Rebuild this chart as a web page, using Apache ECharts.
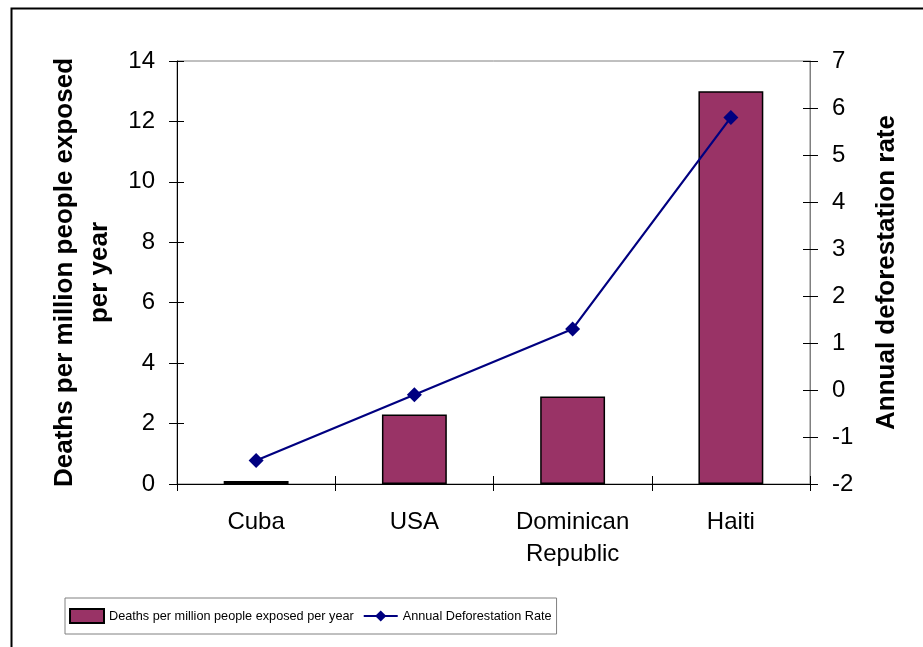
<!DOCTYPE html>
<html>
<head>
<meta charset="utf-8">
<script src="https://cdn.jsdelivr.net/npm/echarts@6/dist/echarts.min.js"></script>
<style>html,body{margin:0;padding:0;background:#fff;}#chart{width:923px;height:647px;}</style>
</head>
<body>
<div id="chart"></div>
<script>
const categories = ['Cuba', 'USA', 'Dominican\nRepublic', 'Haiti'];
const deathsPerMillion = [0.1, 2.3, 2.9, 13.0];
const deforestationRate = [-1.5, -0.1, 1.3, 5.8];
const seriesNames = ['Deaths per million people exposed per year', 'Annual Deforestation Rate'];
const leftAxisTitle = 'Deaths per million people exposed\nper year';
const rightAxisTitle = 'Annual deforestation rate';

const FONT = '"Liberation Sans", Arial, sans-serif';
const chart = echarts.init(document.getElementById('chart'), null, {renderer: 'canvas'});

const crossAxis = (pos, min, max, interval) => ({
  type: 'value', position: pos, min: min, max: max, interval: interval,
  axisLine: {show: false, onZero: false}, axisLabel: {show: false}, splitLine: {show: false},
  axisTick: {show: true, inside: true, length: 7, lineStyle: {color: '#000', width: 1}}
});

chart.setOption({
  animation: false,
  backgroundColor: '#fff',
  textStyle: {fontFamily: FONT, color: '#000'},
  graphic: [{
    type: 'rect', left: 9, top: 6, z: 100,
    shape: {x: 0, y: 0, width: 1000, height: 1000},
    style: {fill: 'none', stroke: '#000', lineWidth: 2}
  }],
  grid: {left: 177, right: 113, top: 61, bottom: 163, show: true, borderColor: '#808080', borderWidth: 1, backgroundColor: 'transparent'},
  legend: {
    left: 65, top: 598,
    data: [
      {name: seriesNames[0], icon: 'rect'},
      {name: seriesNames[1]}
    ],
    itemWidth: 34, itemHeight: 14, itemGap: 9,
    padding: [10, 5, 10, 4],
    borderColor: '#808080', borderWidth: 1,
    textStyle: {fontFamily: FONT, fontSize: 12.7, color: '#000'}
  },
  xAxis: [{
    type: 'category', data: categories, position: 'bottom',
    axisLine: {onZero: false, lineStyle: {color: '#000', width: 1}},
    axisTick: {show: true, length: 7, lineStyle: {color: '#000'}},
    axisLabel: {fontSize: 24, color: '#000', margin: 22, lineHeight: 32, fontFamily: FONT, interval: 0}
  }, {
    type: 'category', data: categories, position: 'bottom',
    axisLine: {show: false, onZero: false}, axisLabel: {show: false},
    axisTick: {show: true, inside: true, length: 8, lineStyle: {color: '#000'}}
  }],
  yAxis: [{
    type: 'value', position: 'left', min: 0, max: 14, interval: 2,
    name: leftAxisTitle, nameLocation: 'middle', nameRotate: 90, nameGap: 58,
    nameTextStyle: {fontSize: 26, fontWeight: 'bold', color: '#000', lineHeight: 35, fontFamily: FONT},
    axisLine: {show: true, onZero: false, lineStyle: {color: '#000', width: 1}},
    axisTick: {show: true, length: 8, lineStyle: {color: '#000'}},
    axisLabel: {fontSize: 24, color: '#000', margin: 22, fontFamily: FONT},
    splitLine: {show: false}
  }, {
    type: 'value', position: 'right', min: -2, max: 7, interval: 1,
    name: rightAxisTitle, nameLocation: 'middle', nameRotate: 90, nameGap: 62,
    nameTextStyle: {fontSize: 26, fontWeight: 'bold', color: '#000', lineHeight: 30, fontFamily: FONT},
    axisLine: {show: true, onZero: false, lineStyle: {color: '#808080', width: 1}},
    axisTick: {show: true, length: 8, lineStyle: {color: '#000'}},
    axisLabel: {fontSize: 24, color: '#000', margin: 22, fontFamily: FONT},
    splitLine: {show: false}
  },
  crossAxis('left', 0, 14, 2),
  crossAxis('right', -2, 7, 1)
  ],
  series: [{
    name: seriesNames[0], type: 'bar', xAxisIndex: 0, yAxisIndex: 0,
    data: deathsPerMillion, barCategoryGap: '59%',
    itemStyle: {color: '#993366', borderColor: '#000', borderWidth: 1.5}
  }, {
    name: seriesNames[1], type: 'line', xAxisIndex: 0, yAxisIndex: 1,
    data: deforestationRate,
    symbol: 'diamond', symbolSize: 15,
    lineStyle: {color: '#000080', width: 2.2},
    itemStyle: {color: '#000080'}
  }]
});
</script>
</body>
</html>
